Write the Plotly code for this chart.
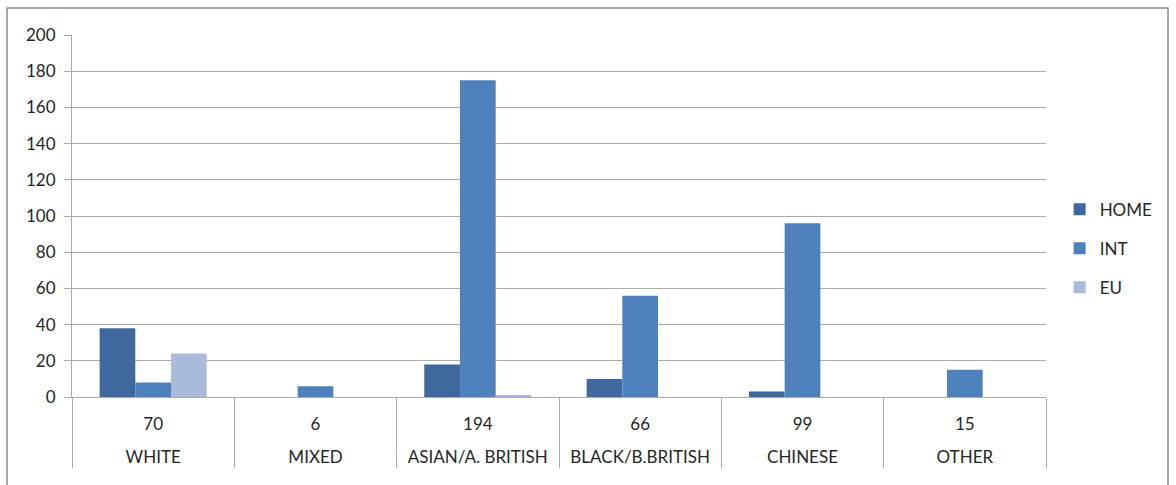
import plotly.graph_objects as go

# Student counts by ethnicity and fee status
groups = ["WHITE", "MIXED", "ASIAN/A. BRITISH", "BLACK/B.BRITISH", "CHINESE", "OTHER"]
home = [38, 0, 18, 10, 3, 0]
intl = [8, 6, 175, 56, 96, 15]
eu = [24, 0, 1, 0, 0, 0]

totals = [h + i + e for h, i, e in zip(home, intl, eu)]
# inner row (next to the axis) shows the group total, outer row the group name;
# the blank second line spaces the two rows apart
x_levels = [groups, [f"{t}<br>&nbsp;" for t in totals]]

FONT = "Lato"
GRID = "#ABABAB"
TEXT = "#262626"

series = [
    ("HOME", home, "#3F689C"),
    ("INT", intl, "#4F81BD"),
    ("EU", eu, "#AABAD9"),
]

fig = go.Figure()
for name, vals, color in series:
    fig.add_trace(go.Bar(
        x=x_levels, y=vals, name=name, legendgroup=name,
        marker=dict(color=color, line=dict(width=0)),
    ))

fig.update_layout(
    width=1176, height=485,
    margin=dict(l=72, r=130, t=35, b=88, autoexpand=False),
    paper_bgcolor="white", plot_bgcolor="white",
    barmode="group", bargap=0.34, bargroupgap=0,
    font=dict(family=FONT, size=17, color=TEXT),
    showlegend=True,
    legend=dict(
        x=1.014, xanchor="left", y=0.41, yanchor="middle",
        font=dict(family=FONT, size=17, color=TEXT),
        tracegroupgap=14, itemwidth=30,
    ),
    shapes=[dict(
        type="rect", xref="paper", yref="paper",
        x0=(7 - 72) / 974, x1=(1168 - 72) / 974,
        y0=-0.3, y1=(397 - 8) / 362,
        line=dict(color="#8C8C8C", width=1.5), fillcolor="rgba(0,0,0,0)",
        layer="below",
    )],
)

fig.update_yaxes(
    range=[0, 200], dtick=20,
    showgrid=True, gridcolor=GRID, gridwidth=1,
    showline=True, linecolor=GRID, linewidth=1,
    ticks="outside", ticklen=7, tickcolor=GRID,
    ticklabelstandoff=5,
    zeroline=False,
    tickfont=dict(family=FONT, size=17, color=TEXT),
)
fig.update_xaxes(
    type="multicategory",
    showline=True, linecolor=GRID, linewidth=1,
    showdividers=True, dividercolor=GRID, dividerwidth=1,
    ticks="", showgrid=False,
    ticklabelstandoff=12,
    tickfont=dict(family=FONT, size=17, color=TEXT),
)

fig.write_html("out.html")
